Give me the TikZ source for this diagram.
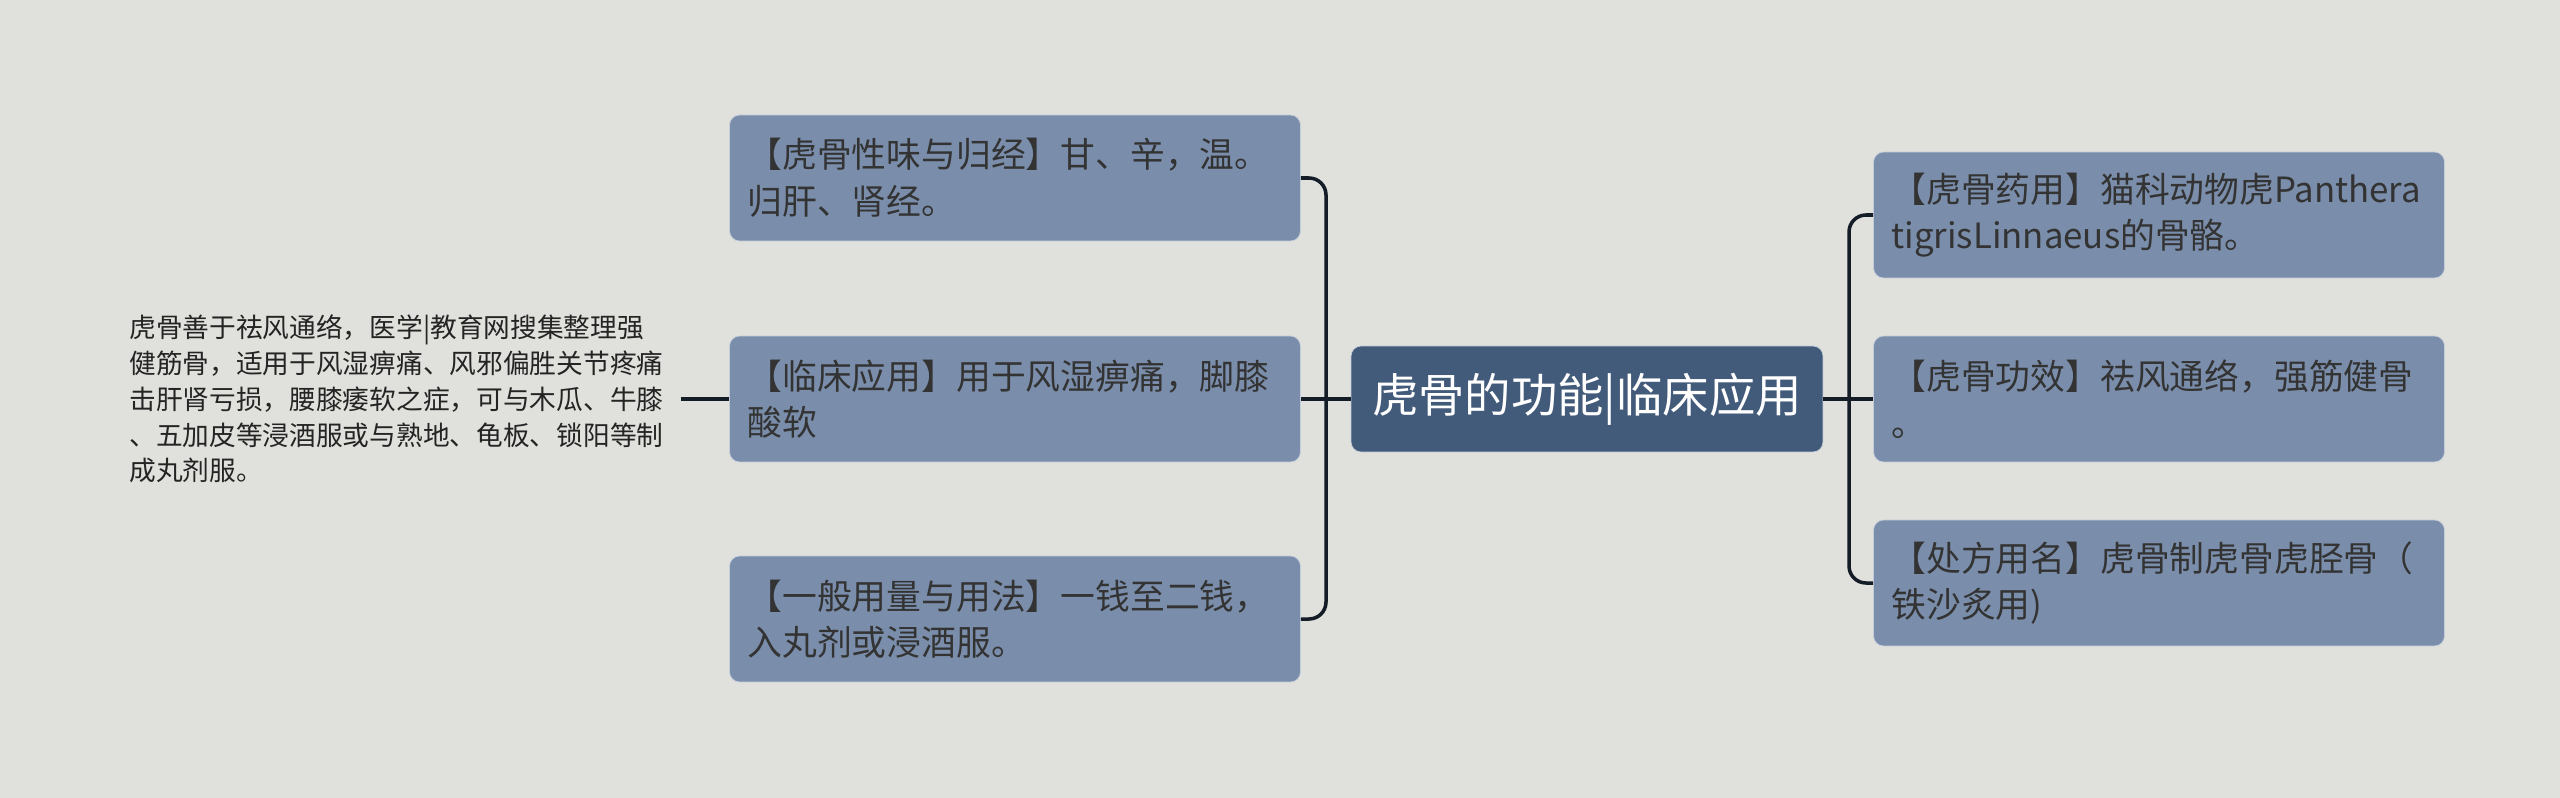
\documentclass[tikz,border=0pt]{standalone}
\usepackage{fontspec}
\setmainfont{Noto Sans CJK SC}
\usetikzlibrary{calc}
\definecolor{tgbg}{RGB}{224,225,220}
\definecolor{tgleaf}{RGB}{122,142,171}
\definecolor{tgedge}{RGB}{196,205,218}
\definecolor{tgroot}{RGB}{67,91,122}
\definecolor{tgline}{RGB}{20,28,40}
\definecolor{tgtext}{RGB}{51,51,51}

\tikzset{
  leaf/.style={rectangle,rounded corners=.2cm,fill=tgleaf,draw=tgedge,line width=.4pt,
    text=tgtext,text width=10.7cm,inner xsep=.36cm,minimum height=2.52cm,align=left,
    font=\fontsize{19.8}{26.5}\selectfont},
  rootbox/.style={rectangle,rounded corners=.2cm,fill=tgroot,draw=tgedge,line width=.4pt,
    text=white,minimum width=9.44cm,minimum height=2.12cm,
    font=\fontsize{26.4}{30}\selectfont},
  note/.style={inner sep=0pt,text width=11.02cm,align=left,text=tgtext!70!black,
    font=\fontsize{15.2}{20.4}\selectfont},
  link/.style={draw=tgline,line width=2pt,rounded corners=.34cm}
}

\begin{document}
\begin{tikzpicture}[x=.02cm,y=-.02cm]
  \fill[tgbg] (0,0) rectangle (2560,798);
  \useasboundingbox (0,0) rectangle (2560,798);

  % centre
  \node[rootbox] (root) at (1587,399) {虎骨的功能|临床应用};

  % left side
  \node[leaf] (l1) at (1015,178) {【虎骨性味与归经】甘、辛，温。\\归肝、肾经。};
  \node[leaf] (l2) at (1015,399) {【临床应用】用于风湿痹痛，脚膝\\酸软};
  \node[leaf] (l3) at (1015,619) {【一般用量与用法】一钱至二钱，\\入丸剂或浸酒服。};
  \node[note,anchor=west] (l2note) at (129,399) {虎骨善于祛风通络，医学|教育网搜集整理强\\健筋骨，适用于风湿痹痛、风邪偏胜关节疼痛\\击肝肾亏损，腰膝痿软之症，可与木瓜、牛膝\\、五加皮等浸酒服或与熟地、龟板、锁阳等制\\成丸剂服。};

  % right side
  \node[leaf] (r1) at (2159,215) {【虎骨药用】猫科动物虎Panthera\\tigrisLinnaeus的骨骼。};
  \node[leaf] (r2) at (2159,399) {【虎骨功效】祛风通络，强筋健骨\\。};
  \node[leaf] (r3) at (2159,583) {【处方用名】虎骨制虎骨虎胫骨（\\铁沙炙用)};

  \coordinate (lj) at (1326,399);
  \coordinate (rj) at (1849,399);

  % connectors
  \draw[link] (l1.east) -| (lj) |- (l3.east);
  \draw[link] (l2.east) -- (root.west);
  \draw[link] (r1.west) -| (rj) |- (r3.west);
  \draw[link] (root.east) -- (r2.west);
  \draw[link] (l2note.east) -- (l2.west);
\end{tikzpicture}
\end{document}
